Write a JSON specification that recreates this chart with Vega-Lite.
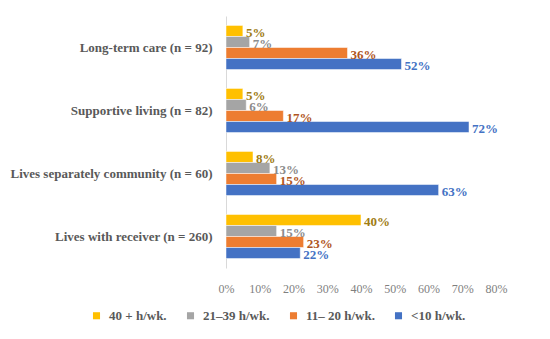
{
  "$schema": "https://vega.github.io/schema/vega-lite/v6.json",
  "width": 270,
  "height": 252,
  "autosize": {"type": "none"},
  "padding": {"left": 226, "top": 16, "right": 54, "bottom": 71},
  "background": "white",
  "config": {
    "view": {"stroke": null},
    "font": "Liberation Serif"
  },
  "data": {
    "values": [
      {"cat": "Long-term care (n = 92)", "series": "40 + h/wk.", "value": 0.05},
      {"cat": "Long-term care (n = 92)", "series": "21–39 h/wk.", "value": 0.07},
      {"cat": "Long-term care (n = 92)", "series": "11– 20 h/wk.", "value": 0.36},
      {"cat": "Long-term care (n = 92)", "series": "<10 h/wk.", "value": 0.52},
      {"cat": "Supportive living (n = 82)", "series": "40 + h/wk.", "value": 0.05},
      {"cat": "Supportive living (n = 82)", "series": "21–39 h/wk.", "value": 0.06},
      {"cat": "Supportive living (n = 82)", "series": "11– 20 h/wk.", "value": 0.17},
      {"cat": "Supportive living (n = 82)", "series": "<10 h/wk.", "value": 0.72},
      {"cat": "Lives separately community (n = 60)", "series": "40 + h/wk.", "value": 0.08},
      {"cat": "Lives separately community (n = 60)", "series": "21–39 h/wk.", "value": 0.13},
      {"cat": "Lives separately community (n = 60)", "series": "11– 20 h/wk.", "value": 0.15},
      {"cat": "Lives separately community (n = 60)", "series": "<10 h/wk.", "value": 0.63},
      {"cat": "Lives with receiver (n = 260)", "series": "40 + h/wk.", "value": 0.40},
      {"cat": "Lives with receiver (n = 260)", "series": "21–39 h/wk.", "value": 0.15},
      {"cat": "Lives with receiver (n = 260)", "series": "11– 20 h/wk.", "value": 0.23},
      {"cat": "Lives with receiver (n = 260)", "series": "<10 h/wk.", "value": 0.22}
    ]
  },
  "encoding": {
    "y": {
      "field": "cat", "type": "nominal",
      "sort": ["Long-term care (n = 92)", "Supportive living (n = 82)", "Lives separately community (n = 60)", "Lives with receiver (n = 260)"],
      "scale": {"paddingInner": 0.3, "paddingOuter": 0.15},
      "axis": {
        "title": null, "ticks": false, "domainColor": "#D9D9D9", "domainWidth": 1,
        "labelFont": "Liberation Serif", "labelFontWeight": "bold", "labelFontSize": 13,
        "labelColor": "#595959", "labelPadding": 14, "labelLimit": 300
      }
    },
    "yOffset": {
      "field": "series", "type": "nominal",
      "sort": ["40 + h/wk.", "21–39 h/wk.", "11– 20 h/wk.", "<10 h/wk."],
      "scale": {"paddingInner": 0, "paddingOuter": 0}
    },
    "x": {
      "field": "value", "type": "quantitative",
      "scale": {"domain": [0, 0.8], "nice": false},
      "axis": {
        "title": null, "values": [0, 0.1, 0.2, 0.3, 0.4, 0.5, 0.6, 0.7, 0.8],
        "format": ".0%", "domain": false, "ticks": false, "grid": false, "labelFlush": false,
        "labelFont": "Liberation Serif", "labelFontSize": 12, "labelColor": "#7F7F7F",
        "labelPadding": 15
      }
    }
  },
  "layer": [
    {
      "mark": {"type": "bar", "stroke": "white", "strokeWidth": 0.5},
      "encoding": {
        "color": {
          "field": "series", "type": "nominal",
          "sort": ["40 + h/wk.", "21–39 h/wk.", "11– 20 h/wk.", "<10 h/wk."],
          "scale": {"domain": ["40 + h/wk.", "21–39 h/wk.", "11– 20 h/wk.", "<10 h/wk."], "range": ["#FFC000", "#A5A5A5", "#ED7D31", "#4472C4"]},
          "legend": {
            "title": null, "orient": "none", "direction": "horizontal", "columns": 4,
            "legendX": -136, "legendY": 293,
            "symbolType": "square", "symbolSize": 50, "symbolStrokeWidth": 0,
            "labelFont": "Liberation Serif", "labelFontWeight": "bold", "labelFontSize": 13,
            "labelColor": "#595959", "labelOffset": 6, "columnPadding": 17
          }
        }
      }
    },
    {
      "mark": {"type": "text", "align": "left", "baseline": "middle", "dx": 3, "dy": 2, "fontWeight": "bold", "fontSize": 13, "font": "Liberation Serif"},
      "encoding": {
        "text": {"field": "value", "type": "quantitative", "format": ".0%"},
        "detail": {"field": "series"},
        "color": {
          "field": "series", "type": "nominal",
          "scale": {"domain": ["40 + h/wk.", "21–39 h/wk.", "11– 20 h/wk.", "<10 h/wk."], "range": ["#A07C14", "#8C8C8C", "#B0561E", "#4472C4"]},
          "legend": null
        }
      }
    }
  ],
  "resolve": {"scale": {"color": "independent"}}
}
